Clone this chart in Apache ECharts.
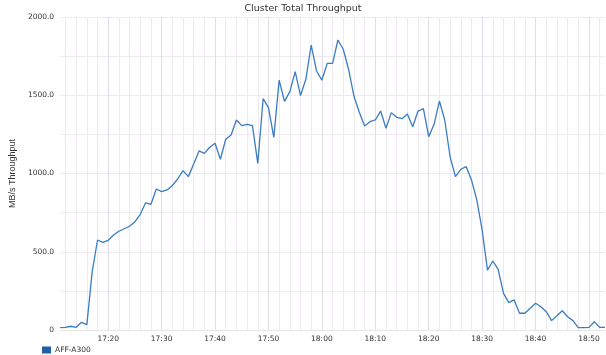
<!DOCTYPE html>
<html>
<head>
<meta charset="utf-8">
<script src="https://cdn.jsdelivr.net/npm/echarts@6/dist/echarts.min.js"></script>
<style>html,body{margin:0;padding:0;background:#fff;}#c{width:606px;height:355px;}</style>
</head>
<body>
<div id="c"></div>
<script>
// Time categories: one sample per minute from 17:11 to 18:53
const startHour = 17, startMinute = 11, sampleCount = 103;
const times = [];
for (let i = 0; i < sampleCount; i++) {
  const t = startHour * 60 + startMinute + i;
  times.push(String(Math.floor(t / 60)).padStart(2, '0') + ':' + String(t % 60).padStart(2, '0'));
}
const seriesName = 'AFF-A300';
const throughput = [
  15, 17, 24, 17, 49, 34, 373, 575, 560, 573,
  607, 631, 647, 663, 692, 739, 813, 803, 901, 884,
  895, 922, 965, 1018, 980, 1060, 1144, 1129, 1168, 1193,
  1091, 1219, 1246, 1342, 1306, 1314, 1306, 1065, 1478, 1421,
  1231, 1597, 1461, 1523, 1651, 1498, 1602, 1821, 1655, 1597,
  1704, 1704, 1853, 1794, 1666, 1495, 1391, 1304, 1331, 1342,
  1399, 1289, 1389, 1359, 1350, 1380, 1299, 1399, 1414, 1235,
  1314, 1463, 1342, 1107, 980, 1027, 1044, 959, 831, 639,
  383, 441, 388, 234, 175, 192, 107, 107, 139, 171,
  149, 117, 60, 91, 123, 85, 60, 15, 15, 17,
  53, 17, 17
];
const yTickLabels = ['0', '500.0', '1000.0', '1500.0', '2000.0'];

const minuteOf = s => parseInt(s.slice(3), 10);
const chart = echarts.init(document.getElementById('c'), null, {renderer: 'canvas'});
chart.setOption({
  animation: false,
  backgroundColor: '#ffffff',
  title: {
    text: 'Cluster Total Throughput', left: 'center', top: -1,
    textStyle: {fontFamily: 'DejaVu Sans', fontSize: 9.5, fontWeight: 'normal', color: '#333'}
  },
  legend: {
    left: 42, top: 346, padding: 0, itemWidth: 9, itemHeight: 7, itemGap: 4,
    icon: 'rect',
    data: [{name: seriesName, itemStyle: {color: '#1f5fa8'}}],
    textStyle: {fontFamily: 'DejaVu Sans', fontSize: 7.5, color: '#333', padding: [0, 0, 0, -1]}
  },
  grid: {left: 42, right: 1, top: 17, bottom: 25, containLabel: false},
  xAxis: [{
    type: 'category', data: times, boundaryGap: false,
    axisLine: {show: true, lineStyle: {color: '#e6e6e6'}},
    axisTick: {show: false},
    axisLabel: {
      interval: (i, v) => minuteOf(v) % 10 === 0,
      fontFamily: 'DejaVu Sans', fontSize: 7.5, color: '#333', margin: 5
    },
    splitLine: {show: true, interval: (i, v) => minuteOf(v) % 2 === 0 && minuteOf(v) % 10 !== 0,
      lineStyle: {color: '#efe9f0', width: 1}}
  }, {
    type: 'category', data: times, boundaryGap: false, position: 'bottom',
    axisLine: {show: false}, axisTick: {show: false}, axisLabel: {show: false},
    splitLine: {show: true, interval: (i, v) => minuteOf(v) % 10 === 0,
      lineStyle: {color: '#e2dce7', width: 1}}
  }],
  yAxis: {
    type: 'value', min: 0, max: 2000, interval: 250,
    name: 'MB/s Throughput', nameLocation: 'middle', nameGap: 33,
    nameTextStyle: {fontFamily: 'Liberation Sans', fontSize: 9, color: '#333'},
    axisLine: {show: false}, axisTick: {show: false},
    axisLabel: {
      fontFamily: 'DejaVu Sans', fontSize: 7.5, color: '#333', margin: 6,
      formatter: v => (v % 500 === 0 ? yTickLabels[v / 500] : '')
    },
    splitLine: {show: true, lineStyle: {color: '#f0eaf0', width: 1}}
  },
  series: [{
    name: seriesName, type: 'line', data: throughput, xAxisIndex: 0,
    showSymbol: false, symbol: 'none',
    lineStyle: {color: '#3a7cc4', width: 1.3},
    itemStyle: {color: '#3a7cc4'}
  }]
});
</script>
</body>
</html>
